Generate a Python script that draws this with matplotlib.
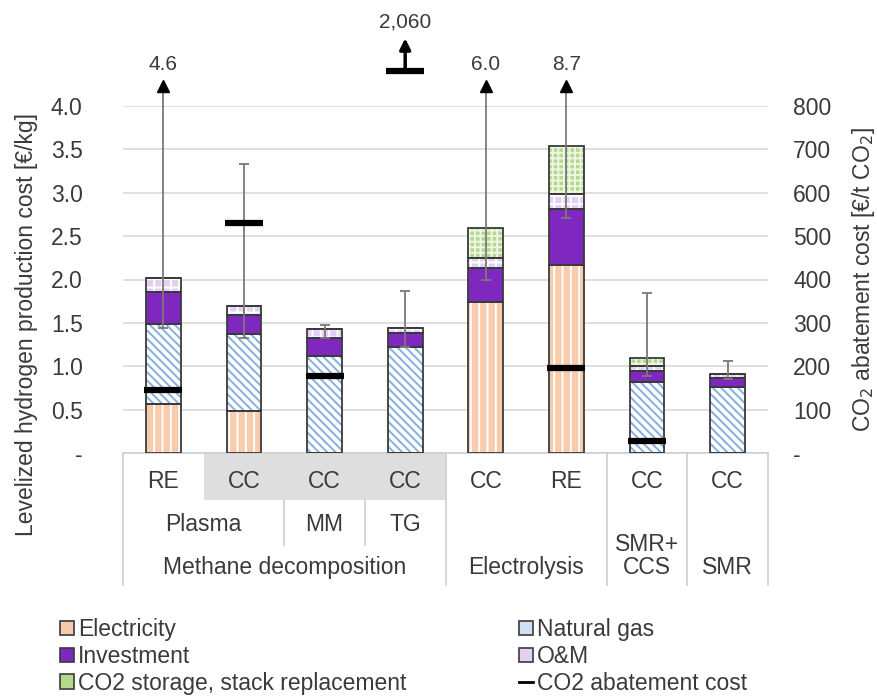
import numpy as np
import matplotlib
matplotlib.use('Agg')
import matplotlib.pyplot as plt
from matplotlib.patches import Patch
from matplotlib.lines import Line2D

# cost components [EUR/kg H2], one value per bar
cases = ['RE', 'CC', 'CC', 'CC', 'CC', 'RE', 'CC', 'CC']
electricity = [0.57, 0.48, 0.0, 0.0, 1.74, 2.17, 0.0, 0.0]
natural_gas = [0.92, 0.89, 1.12, 1.22, 0.0, 0.0, 0.82, 0.76]
investment = [0.37, 0.22, 0.21, 0.16, 0.39, 0.64, 0.12, 0.10]
om = [0.16, 0.11, 0.10, 0.06, 0.12, 0.18, 0.06, 0.05]
co2_stack = [0.0, 0.0, 0.0, 0.0, 0.34, 0.55, 0.10, 0.0]

# range of the production cost
err_low = [1.44, 1.32, 1.32, 1.22, 1.99, 2.71, 0.89, 0.85]
err_high = [4.6, 3.33, 1.48, 1.87, 6.0, 8.7, 1.85, 1.06]

# CO2 abatement cost [EUR/t CO2]
abatement = [145, 530, 178, 2060, np.nan, 197, 28, np.nan]

# category groups: (label, first bar, last bar)
tech_groups = [('Plasma', 0, 1), ('MM', 2, 2), ('TG', 3, 3), ('SMR+', 6, 6)]
route_groups = [('Methane decomposition', 0, 3), ('Electrolysis', 4, 5),
                ('CCS', 6, 6), ('SMR', 7, 7)]

plt.rcParams['font.family'] = ['Liberation Sans', 'DejaVu Sans']
plt.rcParams['font.size'] = 16.5
plt.rcParams['hatch.linewidth'] = 1.4
txt_col = '#3a3a3a'
edge_col = '#3a3a3a'

fig = plt.figure(figsize=(8.77, 6.96), dpi=100)
ax = fig.add_axes([123/877, 1 - 453/696, 645/877, 347/696])
ax2 = ax.twinx()

x = np.arange(len(cases))
width = 0.43

series = [
    ('Electricity', electricity, '#f8cbad', '||', 'white'),
    ('Natural gas', natural_gas, 'white', '\\\\\\\\', '#86afe0'),
    ('Investment', investment, '#7f28c0', None, '#7f28c0'),
    ('O&M', om, '#e4d0f2', '++', 'white'),
    ('CO2 storage, stack replacement', co2_stack, '#b4d98c', '+++', '#eef7e4'),
]

bottom = np.zeros(len(cases))
for name, vals, fc, hatch, hc in series:
    vals = np.array(vals)
    # fill + hatch (hatch takes the edge colour), then the dark outline on top
    ax.bar(x, vals, width, bottom=bottom, color=fc, edgecolor=hc, hatch=hatch,
           linewidth=0, zorder=2)
    ax.bar(x, vals, width, bottom=bottom, facecolor='none', edgecolor=edge_col,
           linewidth=1.3, zorder=2.5)
    bottom += vals

ax.set_xlim(-0.5, len(cases) - 0.5)
ax.set_ylim(0, 4.0)
ax2.set_ylim(0, 800)

# error ranges, arrows when beyond the axis
err_col = '#7a7a7a'
ytop = ax.get_ylim()[1]
arrow_top = ytop * 1.075
for i in range(len(cases)):
    lo, hi = err_low[i], err_high[i]
    ax.vlines(x[i], lo, min(hi, arrow_top - 0.05), color=err_col, lw=1.3,
              zorder=4, clip_on=False)
    ax.plot(x[i], lo, marker='_', ms=7, mew=1.3, color=err_col, zorder=4)
    if hi > ytop:
        ax.plot(x[i], arrow_top - 0.07, marker='^', ms=9, color='black',
                zorder=5, clip_on=False)
        ax.text(x[i], ytop * 1.12, f'{hi:.1f}', ha='center', va='center',
                color=txt_col, fontsize=15)
    else:
        ax.plot(x[i], hi, marker='_', ms=7, mew=1.3, color=err_col, zorder=4)

# abatement cost markers on the right axis
atop = ax2.get_ylim()[1]
for i, v in enumerate(abatement):
    if np.isnan(v):
        continue
    if v <= atop:
        ax2.hlines(v, x[i] - 0.235, x[i] + 0.235, color='black', lw=4.5,
                   zorder=6)
    else:
        yy = atop * 1.1
        ax2.hlines(yy, x[i] - 0.235, x[i] + 0.235, color='black', lw=4.5,
                   clip_on=False, zorder=6)
        ax2.annotate('', xy=(x[i], atop * 1.195), xytext=(x[i], yy),
                     arrowprops=dict(arrowstyle='-|>', color='black', lw=2.5,
                                     mutation_scale=16, shrinkA=0, shrinkB=0),
                     annotation_clip=False)
        ax2.text(x[i], atop * 1.243, f'{v:,.0f}', ha='center', va='center',
                 color=txt_col, fontsize=15)

# axes styling
ticks = np.arange(0, 4.01, 0.5)
ax.set_yticks(ticks)
ax.set_yticklabels(['-'] + [f'{t:.1f}' for t in ticks[1:]])
rticks = np.arange(0, 801, 100)
ax2.set_yticks(rticks)
ax2.set_yticklabels(['-'] + [f'{t:.0f}' for t in rticks[1:]])
ax.set_xticks([])
ax.tick_params(axis='y', length=0, pad=29, colors=txt_col)
ax2.tick_params(axis='y', length=0, pad=18, colors=txt_col)
for a in (ax, ax2):
    for s in a.spines.values():
        s.set_visible(False)
ax.yaxis.grid(True, color='#d9d9d9', lw=1.2)
ax.set_axisbelow(True)

ax.set_ylabel('Levelized hydrogen production cost [€/kg]', color=txt_col)
ax.yaxis.set_label_coords(-0.132, 0.37)
ax2.set_ylabel('CO$_2$ abatement cost [€/t CO$_2$]', color=txt_col,
               rotation=90)
ax2.yaxis.set_label_coords(1.127, 0.5)

# category table under the bars
tr = ax.get_xaxis_transform()
line_col = '#d0d0d0'
row1_y, row1_bot = -0.081, -0.135
row2_y, row2_bot = -0.205, -0.265
row3_bot = -0.380
ax.fill_between([0.5, 3.5], row1_bot, 0, color='#dedede', transform=tr,
                clip_on=False, zorder=0, lw=0)
ax.plot([-0.5, len(cases) - 0.5], [0, 0], color=line_col, lw=1.2,
        transform=tr, clip_on=False)
for xb in [-0.5, 3.5, 5.5, 6.5, len(cases) - 0.5]:
    ax.plot([xb, xb], [0, row3_bot], color=line_col, lw=1.2, transform=tr,
            clip_on=False)
for xb in [1.5, 2.5]:
    ax.plot([xb, xb], [row1_bot, row2_bot], color=line_col, lw=1.2,
            transform=tr, clip_on=False)
for i, c in enumerate(cases):
    ax.text(x[i], row1_y, c, transform=tr, ha='center', va='center',
            color=txt_col)
for label, a, b in tech_groups:
    yy = row2_y if label != 'SMR+' else -0.265
    ax.text((a + b) / 2, yy, label, transform=tr, ha='center', va='center',
            color=txt_col)
for label, a, b in route_groups:
    ax.text((a + b) / 2, -0.329, label, transform=tr, ha='center',
            va='center', color=txt_col)

# legend
handles1 = [
    Patch(facecolor='#f8cbad', edgecolor=edge_col, lw=1.2, label='Electricity'),
    Patch(facecolor='#7f28c0', edgecolor=edge_col, lw=1.2, label='Investment'),
    Patch(facecolor='#b4d98c', edgecolor=edge_col, lw=1.2,
          label='CO2 storage, stack replacement'),
]
handles2 = [
    Patch(facecolor='#cfe0f3', edgecolor=edge_col, lw=1.2, label='Natural gas'),
    Patch(facecolor='#e4d0f2', edgecolor=edge_col, lw=1.2, label='O&M'),
    Line2D([], [], color='black', lw=2, label='CO2 abatement cost'),
]
kw = dict(loc='upper left', frameon=False, handlelength=0.6,
          handleheight=0.6, handletextpad=0.2, labelspacing=0.17,
          borderpad=0, borderaxespad=0, labelcolor=txt_col)
fig.legend(handles=handles1, bbox_to_anchor=(60/877, 1 - 618/696), **kw)
fig.legend(handles=handles2, bbox_to_anchor=(519/877, 1 - 618/696), **kw)

fig.savefig('out.png', dpi=100)
